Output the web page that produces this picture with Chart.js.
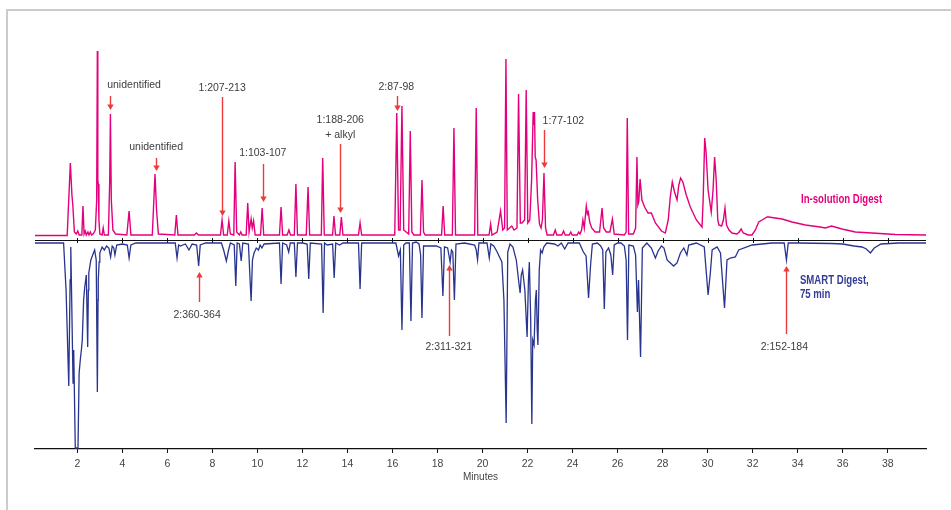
<!DOCTYPE html>
<html><head><meta charset="utf-8">
<script src="https://cdn.jsdelivr.net/npm/chart.js@4"></script>
<style>html,body{margin:0;padding:0;background:#fff;}canvas{display:block;}</style>
</head><body>
<canvas id="c" width="951" height="510"></canvas>
<script>
// ---- data (minutes / detector response) ----
const xTicks = [2,4,6,8,10,12,14,16,18,20,22,24,26,28,30,32,34,36,38];
const axisTitle = 'Minutes';
const pinkName = 'In-solution Digest';
const blueName = ['SMART Digest,', '75 min'];

const pinkTime = [
0.12,1.55,1.69,1.76,1.80,1.87,1.95,2.02,2.08,2.20,
2.25,2.30,2.35,2.40,2.47,2.52,2.58,2.63,2.70,2.80,
2.86,2.89,2.91,2.93,2.96,3.00,3.10,3.15,3.20,3.38,
3.44,3.47,3.51,3.58,3.70,4.20,4.30,4.38,5.33,5.40,
5.45,5.52,5.60,6.33,6.40,6.47,7.20,7.29,7.38,8.36,
8.43,8.50,8.66,8.73,8.80,8.95,9.01,9.08,9.20,9.26,
9.32,9.50,9.57,9.63,9.72,9.77,9.83,9.90,10.14,10.21,
10.28,10.98,11.05,11.12,11.32,11.40,11.47,11.64,11.71,11.78,
12.17,12.25,12.32,12.84,12.90,12.97,13.34,13.40,13.47,13.66,
13.73,13.80,14.49,14.56,14.63,16.10,16.19,16.27,16.34,16.42,
16.50,16.72,16.79,16.86,16.95,17.24,17.31,17.38,17.45,18.18,
18.25,18.32,18.66,18.73,18.80,19.65,19.72,19.79,20.29,20.36,
20.42,20.65,20.80,20.90,20.98,21.04,21.10,21.20,21.30,21.40,
21.53,21.60,21.68,21.75,21.87,21.94,22.01,22.10,22.18,22.25,
22.28,22.31,22.34,22.38,22.45,22.53,22.60,22.66,22.73,22.80,
22.87,23.15,23.23,23.30,23.52,23.60,23.67,23.85,23.92,23.98,
24.20,24.27,24.33,24.40,24.46,24.52,24.61,24.66,24.70,24.76,
24.85,25.00,25.20,25.31,25.38,25.50,25.66,25.77,25.85,26.30,
26.38,26.43,26.49,26.70,26.80,26.86,26.90,26.94,27.00,27.08,
27.20,27.35,27.50,27.68,27.95,28.12,28.25,28.34,28.43,28.53,
28.64,28.72,28.80,28.90,29.05,29.23,29.50,29.75,29.80,29.87,
29.93,30.02,30.16,30.24,30.31,30.38,30.45,30.50,30.62,30.70,
30.77,30.84,30.95,31.08,31.30,31.40,31.49,31.58,31.80,31.97,
32.12,32.27,32.42,32.64,32.71,33.00,33.31,33.75,34.34,35.00,
35.23,35.50,35.97,36.56,37.30,38.34,39.70];
const pinkSignal = [
4.5,4.5,77,45,35,8,6,9,5,5,
34,6,9,5,8,5,8,5,6,10,
40,189,60,56,20,6,5,12,5,5,
60,126,40,10,6,5,29,5,5,40,
66,30,6,5,25,5,5,7,5,5,
20,5,5,19,6,5,78,8,5,8,
5,5,37,8,21,12,19,5,5,32,
5,5,33,5,5,10,5,5,56,5,
5,53,5,5,82,5,5,24,5,5,
23,5,5,17,5,5,127,10,10,134,
10,6,109,8,5,5,60,8,5,5,
34,5,5,112,5,5,132,5,5,16,
5,8,29,10,12,181,10,12,14,10,
12,146,17,17,20,150,17,20,60,128,
115,128,83,80,40,16,12,20,67,12,
5,5,10,5,5,9,5,5,8,5,
5,8,6,10,20,12,34,26,28,18,
12,8,8,32,12,8,8,21,6,5,
8,122,6,6,12,83,35,38,61,40,
33,27,27,17,9,7,20,43,58,48,
40,55,62,58,45,33,20,13,40,102,
88,50,28,50,83,60,20,15,14,20,
32,15,10,7,6,8,11,7,5,5,
10,18,20,23,23,22,21,18,15,13,
12,14,11,8,7,5.5,5];

const blueTime = [
0.12,1.39,1.50,1.62,1.68,1.71,1.75,1.81,1.84,1.91,
2.03,2.08,2.14,2.18,2.22,2.28,2.33,2.40,2.46,2.49,
2.51,2.60,2.70,2.77,2.84,2.89,2.92,2.93,2.97,3.00,
3.10,3.20,3.30,3.40,3.48,3.55,3.62,3.67,3.75,4.00,
4.22,4.30,4.38,4.60,6.35,6.43,6.50,6.58,6.80,6.96,
7.10,7.30,7.39,7.46,7.70,8.40,8.50,8.62,8.72,8.80,
8.97,9.04,9.10,9.20,9.28,9.35,9.60,9.72,9.78,9.85,
9.95,10.05,10.12,10.20,10.30,10.98,11.05,11.12,11.30,11.39,
11.46,11.64,11.71,11.78,12.00,12.21,12.28,12.35,12.85,12.92,
12.98,13.10,13.34,13.41,13.48,13.65,13.80,14.49,14.56,14.63,
16.15,16.27,16.35,16.42,16.50,16.60,16.75,16.82,16.89,17.05,
17.18,17.25,17.31,17.38,17.60,17.95,18.15,18.24,18.31,18.45,
18.56,18.62,18.68,18.75,18.82,19.20,19.65,19.72,19.78,19.84,
20.20,20.30,20.37,20.50,20.65,20.86,20.95,21.05,21.12,21.22,
21.35,21.50,21.60,21.67,21.72,21.78,21.88,21.98,22.04,22.08,
22.14,22.19,22.23,22.29,22.35,22.39,22.43,22.46,22.52,22.58,
22.65,22.72,22.85,23.20,23.35,23.50,23.65,23.80,24.30,24.48,
24.60,24.71,24.80,24.88,25.10,25.25,25.34,25.41,25.48,25.60,
25.70,25.78,25.85,26.00,26.15,26.30,26.38,26.44,26.50,26.70,
26.80,26.88,26.93,27.02,27.10,27.30,27.50,27.68,27.80,27.95,
28.06,28.20,28.49,28.64,28.79,28.94,29.08,29.16,29.50,29.85,
30.02,30.12,30.20,30.42,30.57,30.75,30.86,31.01,31.23,31.38,
31.98,32.86,33.40,33.50,33.58,34.00,35.50,36.00,36.50,36.86,
37.05,37.23,37.40,37.70,38.50,39.70];
const blueSignal = [
-3,-3,-50,-146,-40,-7,-60,-143,-110,-208,
-208,-133,-118,-110,-100,-60,-47,-35,-107,-50,
-33,-20,-14,-10,-20,-152,-60,-40,-22,-13,
-7,-10,-6,-8,-17,-6,-8,-15,-5,-4,
-5,-18,-5,-3,-3,-18,-5,-6,-4,-10,
-4,-5,-26,-5,-3,-3,-10,-21,-10,-3,
-5,-46,-3,-4,-21,-3,-4,-61,-20,-13,
-8,-10,-5,-8,-4,-3,-44,-3,-5,-12,
-3,-3,-37,-3,-3,-4,-39,-3,-4,-73,
-3,-5,-4,-38,-3,-5,-3,-3,-49,-3,
-3,-16,-10,-90,-5,-3,-3,-81,-3,-2,
-4,-15,-78,-6,-6,-6,-8,-56,-7,-8,
-22,-10,-12,-60,-4,-3,-5,-10,-20,-3,
-3,-18,-4,-6,-12,-22,-60,-183,-12,-4,
-7,-20,-40,-53,-35,-30,-50,-97,-40,-22,
-80,-184,-100,-105,-60,-50,-90,-105,-30,-10,
-13,-7,-3,-4,-6,-3,-9,-3,-3,-12,
-16,-58,-25,-4,-3,-6,-10,-69,-12,-8,
-15,-35,-5,-3,-3,-6,-20,-100,-5,-6,
-15,-72,-40,-117,-8,-3,-8,-18,-11,-6,
-8,-20,-26,-23,-13,-8,-15,-5,-3,-7,
-55,-33,-10,-7,-13,-68,-20,-18,-17,-10,
-5,-3,-3,-20,-3,-3,-3.5,-4,-6,-7,
-9,-13,-8,-4,-3,-3];

// ---- peak annotations (data coordinates) ----
const annText = [['unidentified'],['unidentified'],['1:207-213'],['1:103-107'],['1:188-206','+ alkyl'],['2:87-98'],['1:77-102'],['2:360-364'],['2:311-321'],['2:152-184']];
const annTextT = [4.52,5.50,8.43,10.24,13.68,16.17,23.59,7.32,18.50,33.41];
const annTextV = [155,93,152,87,120,153,119,-75,-107,-107];
const annArrowT = [3.45,5.50,8.43,10.24,13.69,16.19,22.73,7.41,18.52,33.50];
const annTailV = [144,82,143,76,96,144,110,-62,-96,-94];
const annTipV = [130,69,24,38,27,129,72,-32,-25,-26];

const PINK = '#e4007c', BLUE = '#28348e', RED = '#ee3a3a', TXT = '#3d3d3d';

const overlay = {
  id: 'overlay',
  beforeDraw(chart) {
    const ctx = chart.ctx;
    ctx.save();
    ctx.fillStyle = '#fff';
    ctx.fillRect(0, 0, chart.width, chart.height);
    ctx.strokeStyle = '#cbcbcb';
    ctx.lineWidth = 2;
    ctx.beginPath();
    ctx.moveTo(7, chart.height); ctx.lineTo(7, 10); ctx.lineTo(chart.width, 10);
    ctx.stroke();
    ctx.restore();
  },
  beforeDatasetsDraw(chart) {
    const {ctx, scales: {x, y}} = chart;
    const y0 = Math.round(y.getPixelForValue(0)) + 0.5;
    ctx.save();
    ctx.strokeStyle = '#111';
    ctx.lineWidth = 1.2;
    ctx.beginPath(); ctx.moveTo(x.left, y0); ctx.lineTo(x.right, y0); ctx.stroke();
    ctx.lineWidth = 1;
    xTicks.forEach(t => {
      const px = Math.round(x.getPixelForValue(t)) + 0.5;
      ctx.beginPath(); ctx.moveTo(px, y0 - 2.5); ctx.lineTo(px, y0 + 2.5); ctx.stroke();
    });
    ctx.restore();
  },
  afterDatasetsDraw(chart) {
    const {ctx, scales: {x, y}} = chart;
    ctx.save();
    annArrowT.forEach((t, i) => {
      const px = Math.round(x.getPixelForValue(t)) + 0.5;
      const yt = y.getPixelForValue(annTailV[i]);
      const yh = y.getPixelForValue(annTipV[i]);
      const dir = yh > yt ? 1 : -1;
      ctx.strokeStyle = RED; ctx.lineWidth = 1.4;
      ctx.beginPath(); ctx.moveTo(px, yt); ctx.lineTo(px, yh - dir * 4); ctx.stroke();
      ctx.fillStyle = RED;
      ctx.beginPath();
      ctx.moveTo(px, yh); ctx.lineTo(px - 3.2, yh - dir * 5.5); ctx.lineTo(px + 3.2, yh - dir * 5.5);
      ctx.closePath(); ctx.fill();
    });
    ctx.fillStyle = TXT;
    ctx.font = "10.5px 'Liberation Sans', Arial, sans-serif";
    ctx.textAlign = 'center'; ctx.textBaseline = 'middle';
    annText.forEach((lines, i) => {
      const px = x.getPixelForValue(annTextT[i]);
      lines.forEach((s, k) => {
        ctx.fillText(s, px, y.getPixelForValue(annTextV[i] - 15 * k));
      });
    });
    // series names (condensed bold)
    const cond = (s, px, py, align, color) => {
      ctx.save();
      ctx.translate(px, py);
      ctx.scale(0.8, 1);
      ctx.font = "bold 12px 'Liberation Sans', Arial, sans-serif";
      ctx.textAlign = align; ctx.textBaseline = 'middle';
      ctx.fillStyle = color;
      ctx.fillText(s, 0, 0);
      ctx.restore();
    };
    cond(pinkName, x.getPixelForValue(35.95), y.getPixelForValue(40), 'center', PINK);
    blueName.forEach((s, k) => cond(s, x.getPixelForValue(34.1), y.getPixelForValue(-41 - 14 * k), 'left', '#333d96'));
    ctx.restore();
  }
};

const toPts = (ts, vs) => ts.map((t, i) => ({x: t, y: vs[i]}));

new Chart(document.getElementById('c'), {
  type: 'line',
  data: {
    datasets: [
      {label: pinkName, data: toPts(pinkTime, pinkSignal), borderColor: PINK, borderWidth: 1.4, pointRadius: 0, tension: 0, fill: false},
      {label: blueName.join(' '), data: toPts(blueTime, blueSignal), borderColor: BLUE, borderWidth: 1.3, pointRadius: 0, tension: 0, fill: false}
    ]
  },
  options: {
    responsive: false, animation: false, devicePixelRatio: 1,
    layout: {padding: {left: 35, right: 25, top: 30, bottom: 0}},
    plugins: {legend: {display: false}, tooltip: {enabled: false}},
    scales: {
      x: {
        type: 'linear', min: 0.12, max: 39.7,
        afterBuildTicks(s) { s.ticks = xTicks.map(v => ({value: v})); },
        afterFit(s) { s.height = 61; },
        grid: {display: true, drawOnChartArea: false, drawTicks: true, tickLength: 4, color: '#111', lineWidth: 1},
        border: {display: true, color: '#111', width: 1.2},
        ticks: {color: '#444', font: {family: "'Liberation Sans', Arial, sans-serif", size: 10.5}, padding: 5, maxRotation: 0, autoSkip: false},
        title: {display: true, text: axisTitle, color: '#444', font: {family: "'Liberation Sans', Arial, sans-serif", size: 10}, padding: {top: 0, bottom: 27}}
      },
      y: {type: 'linear', display: false, min: -209, max: 210}
    }
  },
  plugins: [overlay]
});
</script>
</body></html>
